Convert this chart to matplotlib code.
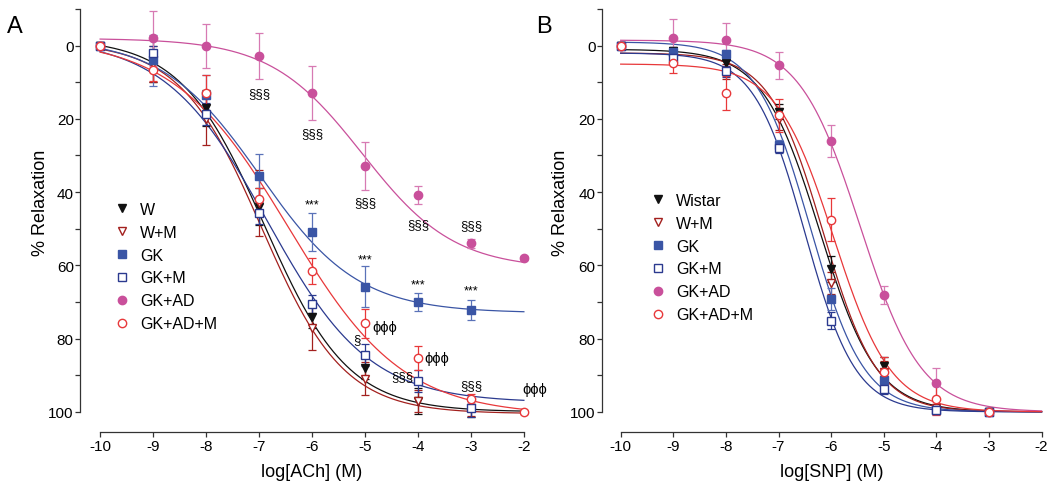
import numpy as np
import matplotlib
matplotlib.use("Agg")
import matplotlib.pyplot as plt
from matplotlib.lines import Line2D

plt.rcParams['font.family'] = ['Liberation Sans', 'DejaVu Sans']
plt.rcParams['axes.unicode_minus'] = False

logc = [-10, -9, -8, -7, -6, -5, -4, -3, -2]

# ---- panel A: ACh ----
a_labels = ['W', 'W+M', 'GK', 'GK+M', 'GK+AD', 'GK+AD+M']
a_W = [0, 4, 17, 44, 74, 88, 97, 99, np.nan]
a_W_err = [0, 6, 5, 5, 3, 3, 3.5, 2.5, np.nan]
a_WM = [0, 5, 20, 43, 77, 91, 97, 99, np.nan]
a_WM_err = [0, 5, 7, 9, 6, 4.5, 3, 2, np.nan]
a_GK = [0, 4, 13.5, 35.7, 50.9, 65.8, 70, 72.2, np.nan]
a_GK_err = [0, 7, 5.5, 6.2, 5.3, 5.7, 2.5, 2.8, np.nan]
a_GKM = [0, 2, 18.6, 45.7, 70.6, 84.4, 91.5, 99, np.nan]
a_GKM_err = [0, 2, 3, 3, 2.5, 3, 3, 2.5, np.nan]
a_GKAD = [0, -2, 0, 2.9, 12.9, 32.9, 40.8, 54, 58]
a_GKAD_err = [0, 7.5, 6, 6.3, 7.4, 6.6, 2.5, 1.2, 0.5]
a_GKADM = [0, 6.6, 13, 41.8, 61.5, 75.8, 85.3, 96.5, 100]
a_GKADM_err = [0, 3, 5, 3, 3.5, 4, 3.3, 1.5, 0.5]

# fitted curve parameters: top, bottom, logEC50, hill
a_fit = {
    'W': (-2, 100, -6.9, 0.55),
    'W+M': (-1, 100.5, -6.95, 0.56),
    'GK': (-2, 73, -6.98, 0.47),
    'GK+M': (-2, 97.5, -6.85, 0.45),
    'GK+AD': (-2, 61, -5.05, 0.5),
    'GK+AD+M': (-2, 101, -6.45, 0.4),
}

# ---- panel B: SNP ----
b_labels = ['Wistar', 'W+M', 'GK', 'GK+M', 'GK+AD', 'GK+AD+M']
b_W = [0, 1.5, 4.8, 18, 61, 87.6, 99.5, 100]
b_W_err = [0, 1, 1, 2, 3.5, 2.5, 1, 0.5]
b_WM = [0, 3, 7, 20, 64.7, 89, 99, 100]
b_WM_err = [0, 1.5, 2, 3, 3, 3, 1, 0.5]
b_GK = [0, 1.8, 2.3, 27.2, 69.2, 91.4, 99.5, 100]
b_GK_err = [0, 1, 1, 1.5, 3, 2, 1, 0.5]
b_GKM = [0, 3.4, 7, 27.9, 75.1, 93.7, 99.5, 100]
b_GKM_err = [0, 1, 1.5, 1.5, 2.4, 1.5, 1, 0.5]
b_GKAD = [0, -2.1, -1.6, 5.4, 26.1, 68, 92.1, 100]
b_GKAD_err = [0, 5.2, 4.7, 3.6, 4.4, 2.5, 4, 0.5]
b_GKADM = [0, 4.8, 12.9, 19, 47.5, 89, 96.4, 100]
b_GKADM_err = [0, 2.6, 4.7, 4.5, 5.9, 4, 4.5, 0.5]

b_fit = {
    'Wistar': (1, 100, -6.22, 0.8),
    'W+M': (2, 100, -6.15, 0.85),
    'GK': (-1, 100, -6.4, 0.85),
    'GK+M': (2, 100, -6.5, 0.9),
    'GK+AD': (-1.5, 100, -5.45, 0.75),
    'GK+AD+M': (5, 100, -5.95, 0.8),
}

black = '#111111'
darkred = '#a3201e'
blue = '#3a55a5'
navy = '#2b3a8f'
pink = '#c9509b'
pink_err = '#d77ab3'
red = '#e8383a'

# (marker, edge, face, curve colour, errorbar colour)
styles = [
    ('v', black, black, black, black),
    ('v', darkred, 'white', darkred, darkred),
    ('s', blue, blue, blue, '#5a72b8'),
    ('s', navy, 'white', navy, navy),
    ('o', pink, pink, pink, pink_err),
    ('o', red, 'white', red, red),
]


def logistic(x, top, bottom, ec50, hill):
    return top + (bottom - top) / (1 + 10 ** ((ec50 - x) * hill))


def setup(ax, xleft, xlabel):
    ax.set_xlim(xleft, -1.96)
    ax.set_ylim(105.5, -10)
    for s in ['top', 'right']:
        ax.spines[s].set_visible(False)
    ax.spines['left'].set_bounds(-10, 100)
    ax.spines['bottom'].set_bounds(-10, -2)
    for s in ['left', 'bottom']:
        ax.spines[s].set_linewidth(0.9)
        ax.spines[s].set_color('#333333')
    ax.set_xticks(range(-10, -1))
    ax.set_yticks(range(0, 101, 20))
    ax.set_yticks(range(-10, 100, 20), minor=True)
    ax.tick_params(which='both', direction='out', length=3.5, width=0.9,
                   color='#333333', labelsize=11)
    ax.tick_params(axis='x', pad=1.5)
    ax.tick_params(axis='y', which='both', pad=1)
    ax.set_xlabel(xlabel, fontsize=13)
    ax.set_ylabel('% Relaxation', fontsize=13)


fig = plt.figure(figsize=(10.63, 4.85), dpi=100)
axA = fig.add_axes([80 / 1063, 52 / 485, 446 / 1063, 423 / 485])
axB = fig.add_axes([601.7 / 1063, 52 / 485, 442 / 1063, 423 / 485])

xfit = np.linspace(-10, -2, 400)

a_series = [(a_W, a_W_err), (a_WM, a_WM_err), (a_GK, a_GK_err),
            (a_GKM, a_GKM_err), (a_GKAD, a_GKAD_err), (a_GKADM, a_GKADM_err)]
b_series = [(b_W, b_W_err), (b_WM, b_WM_err), (b_GK, b_GK_err),
            (b_GKM, b_GKM_err), (b_GKAD, b_GKAD_err), (b_GKADM, b_GKADM_err)]

for ax, labels, series, fits in [(axA, a_labels, a_series, a_fit),
                                 (axB, b_labels, b_series, b_fit)]:
    handles = []
    for lab, (vals, errs), st in zip(labels, series, styles):
        m, ec, fc, cc, errc = st
        x = logc[:len(vals)]
        ax.plot(xfit, logistic(xfit, *fits[lab]), color=cc, lw=0.9, zorder=2)
        ax.errorbar(x, vals, yerr=errs, fmt='none', ecolor=errc, elinewidth=0.9,
                    capsize=3, capthick=0.9, zorder=3, clip_on=False)
        ax.plot(x, vals, ls='none', marker=m, ms=6, mec=ec, mfc=fc, mew=1.0,
                zorder=4, clip_on=False)
        handles.append(Line2D([], [], ls='none', marker=m, ms=6, mec=ec, mfc=fc,
                              mew=1.0, label=lab))
    ax.handles = handles

setup(axA, -10.38, 'log[ACh] (M)')
setup(axB, -10.361, 'log[SNP] (M)')
axA.yaxis.set_label_coords(-0.0695, 0.544)
axB.yaxis.set_label_coords(-0.074, 0.544)
for ax in (axA, axB):
    ax.xaxis.set_label_coords(0.52, -0.073)

legend_kw = dict(bbox_transform=fig.transFigure, loc='upper left', frameon=False,
                 fontsize=11.5, handlelength=1.0, handletextpad=0.65,
                 labelspacing=0.49, borderpad=0, borderaxespad=0)
axA.legend(handles=axA.handles, bbox_to_anchor=(114 / 1063, 1 - 203 / 485), **legend_kw)
axB.legend(handles=axB.handles, bbox_to_anchor=(650 / 1063, 1 - 194 / 485), **legend_kw)

# significance marks (panel A)
sec_pos = [(-7.0, 12.9), (-6.0, 24), (-5.0, 42.6), (-4.0, 48.6), (-3.0, 49),
           (-4.29, 90.3), (-3.0, 92.6)]
star_pos = [(-6.0, 43.5), (-5.0, 58.3), (-4.0, 65.2), (-3.0, 66.9)]
phi_pos = [(-4.62, 76.7), (-3.65, 85.4), (-1.79, 93.8)]
for x, y in sec_pos:
    axA.text(x, y, '§§§', ha='center', va='center', fontsize=9.5, clip_on=False)
axA.text(-5.15, 80, '§', ha='center', va='center', fontsize=9.5)
for x, y in star_pos:
    axA.text(x, y, '***', ha='center', va='center', fontsize=9)
for x, y in phi_pos:
    axA.text(x, y, 'ϕϕϕ', ha='center', va='center', fontsize=10.5, clip_on=False)

fig.text(15 / 1063, 1 - 27 / 485, 'A', fontsize=17, ha='center', va='center')
fig.text(544 / 1063, 1 - 27 / 485, 'B', fontsize=17, ha='center', va='center')

fig.savefig('out.png', dpi=100)
